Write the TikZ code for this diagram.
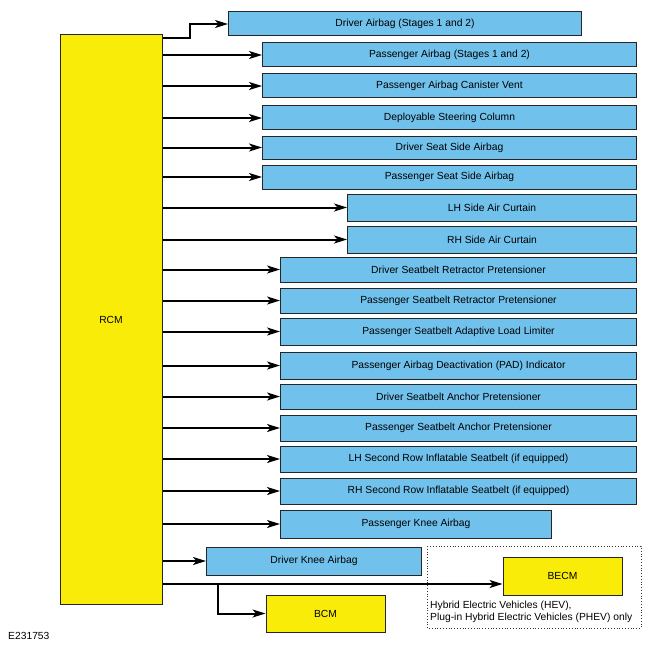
\documentclass[tikz,border=0pt]{standalone}
\usepackage{fontspec}
\setmainfont{Liberation Sans}
\usepackage{xcolor}
\usetikzlibrary{arrows.meta}
\definecolor{boxblue}{RGB}{112,193,236}
\definecolor{boxyellow}{RGB}{248,236,8}
\begin{document}
\begin{tikzpicture}[x=1pt,y=-1pt]
\tikzstyle{every node}+=[inner sep=0pt,font=\fontsize{10.3}{12}\selectfont]
\tikzstyle{module}=[draw=black!85,line width=1pt,fill=boxblue,anchor=west]
\tikzstyle{ecu}=[draw=black!85,line width=1pt,fill=boxyellow]
\tikzstyle{feed}=[draw=black,line width=2pt,-{Stealth[length=13pt,width=8pt,inset=3.5pt]}]
\useasboundingbox (0,0) rectangle (650,650);
% restraints control module
\node [ecu,minimum width=102pt,minimum height=569pt] (rcm) at (111,319.5) {RCM};
% outputs
\node [module,minimum width=353pt,minimum height=24pt] (dab) at (228,24) {Driver Airbag (Stages 1 and 2)};
\node [module,minimum width=374pt,minimum height=24pt] (pab) at (262,55) {Passenger Airbag (Stages 1 and 2)};
\node [module,minimum width=374pt,minimum height=24pt] (pacv) at (262,86) {Passenger Airbag Canister Vent};
\node [module,minimum width=374pt,minimum height=24pt] (dsc) at (262,118) {Deployable Steering Column};
\node [module,minimum width=374pt,minimum height=23pt] (dssa) at (262,147.5) {Driver Seat Side Airbag};
\node [module,minimum width=374pt,minimum height=24pt] (pssa) at (262,177) {Passenger Seat Side Airbag};
\node [module,minimum width=289pt,minimum height=27pt] (lhac) at (347,207.5) {LH Side Air Curtain};
\node [module,minimum width=289pt,minimum height=27pt] (rhac) at (347,239.5) {RH Side Air Curtain};
\node [module,minimum width=356pt,minimum height=25pt] (dsrp) at (280,269.5) {Driver Seatbelt Retractor Pretensioner};
\node [module,minimum width=356pt,minimum height=25pt] (psrp) at (280,300.5) {Passenger Seatbelt Retractor Pretensioner};
\node [module,minimum width=356pt,minimum height=27pt] (psll) at (280,331.5) {Passenger Seatbelt Adaptive Load Limiter};
\node [module,minimum width=356pt,minimum height=27pt] (pad) at (280,365.5) {Passenger Airbag Deactivation (PAD) Indicator};
\node [module,minimum width=356pt,minimum height=25pt] (dsap) at (280,396.5) {Driver Seatbelt Anchor Pretensioner};
\node [module,minimum width=356pt,minimum height=26pt] (psap) at (280,428) {Passenger Seatbelt Anchor Pretensioner};
\node [module,minimum width=356pt,minimum height=26pt] (lhis) at (280,459) {LH Second Row Inflatable Seatbelt (if equipped)};
\node [module,minimum width=356pt,minimum height=26pt] (rhis) at (280,491) {RH Second Row Inflatable Seatbelt (if equipped)};
\node [module,minimum width=271pt,minimum height=28pt] (pkab) at (280,524) {Passenger Knee Airbag};
\node [module,minimum width=215pt,minimum height=28pt] (dkab) at (206,561) {Driver Knee Airbag};
\node [ecu,minimum width=119pt,minimum height=38pt] (becm) at (562.5,576) {BECM};
\node [ecu,minimum width=119pt,minimum height=37pt] (bcm) at (325.5,613.5) {BCM};
% hybrid note
\draw [black!80,dotted,line width=0.8pt] (427,546) rectangle (641,628);
\node [anchor=north west,align=left] (note) at (430,601) {Hybrid Electric Vehicles (HEV),\\Plug-in Hybrid Electric Vehicles (PHEV) only};
\node [anchor=west] (fig) at (8,636) {E231753};
% connectors
\coordinate (bend) at (190,38);
\draw [feed] (rcm.east |- bend) -- (bend) |- (dab.west);
\draw [feed] (rcm.east |- pab.west) -- (pab.west);
\draw [feed] (rcm.east |- pacv.west) -- (pacv.west);
\draw [feed] (rcm.east |- dsc.west) -- (dsc.west);
\draw [feed] (rcm.east |- dssa.west) -- (dssa.west);
\draw [feed] (rcm.east |- pssa.west) -- (pssa.west);
\draw [feed] (rcm.east |- lhac.west) -- (lhac.west);
\draw [feed] (rcm.east |- rhac.west) -- (rhac.west);
\draw [feed] (rcm.east |- dsrp.west) -- (dsrp.west);
\draw [feed] (rcm.east |- psrp.west) -- (psrp.west);
\draw [feed] (rcm.east |- psll.west) -- (psll.west);
\draw [feed] (rcm.east |- pad.west) -- (pad.west);
\draw [feed] (rcm.east |- dsap.west) -- (dsap.west);
\draw [feed] (rcm.east |- psap.west) -- (psap.west);
\draw [feed] (rcm.east |- lhis.west) -- (lhis.west);
\draw [feed] (rcm.east |- rhis.west) -- (rhis.west);
\draw [feed] (rcm.east |- pkab.west) -- (pkab.west);
\draw [feed] (rcm.east |- dkab.west) -- (dkab.west);
\coordinate (tap) at (218,584);
\draw [feed] (rcm.east |- tap) -- (becm.west |- tap);
\draw [feed] (tap) |- (bcm.west);
\end{tikzpicture}
\end{document}
